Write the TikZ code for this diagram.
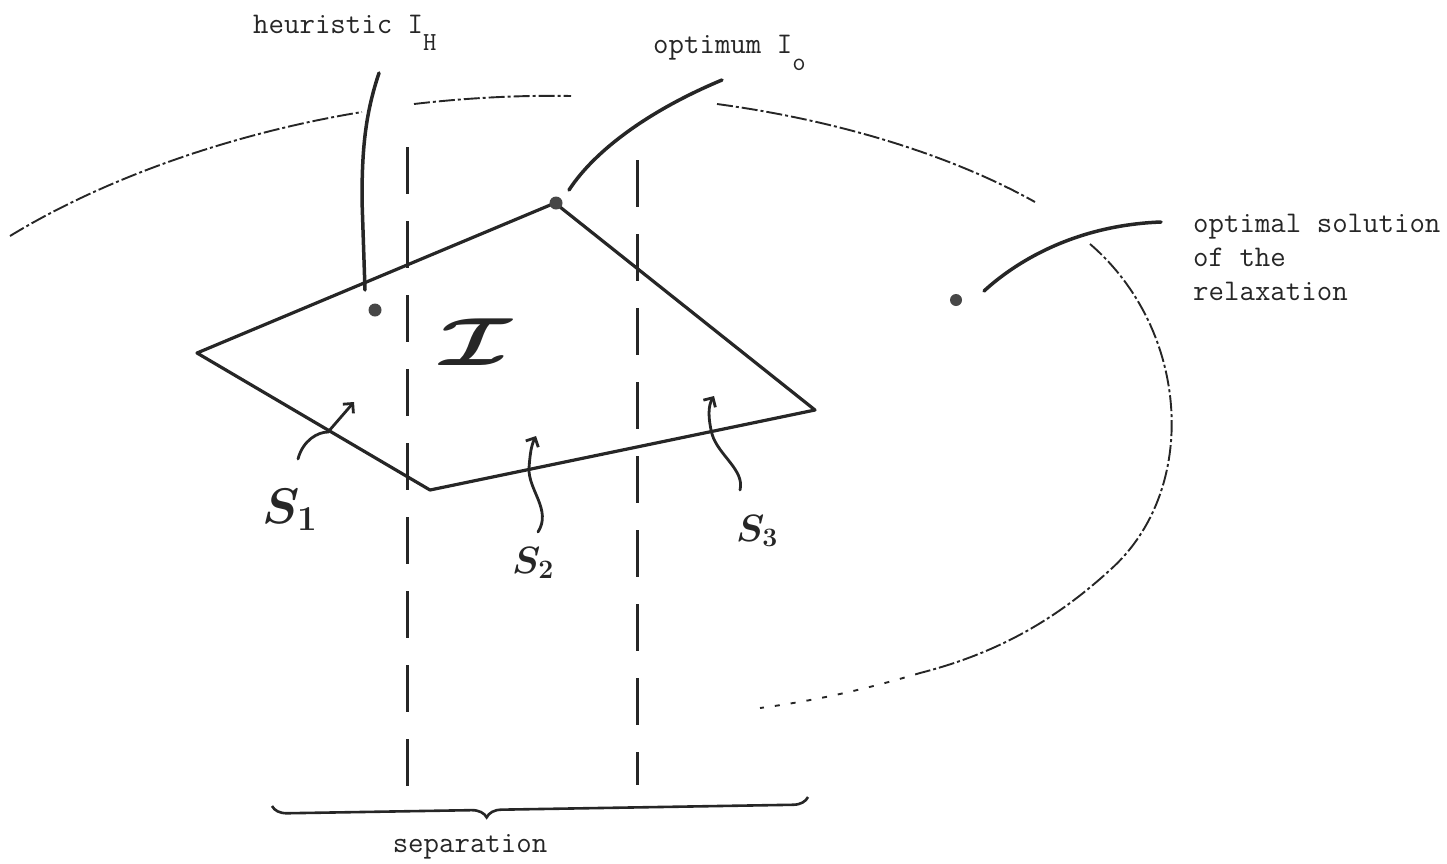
\documentclass[tikz,border=0pt]{standalone}
\usepackage{fix-cm}
\usepackage{fontspec}
\setmainfont{Liberation Serif}
\usetikzlibrary{arrows.meta,decorations.pathreplacing}
\definecolor{Ink}{RGB}{38,38,38}

\tikzset{
  tw/.style={font=\ttfamily\fontsize{30}{34}\selectfont\addfontfeatures{FakeBold=1.2}, inner sep=0pt, text=Ink},
  polyedge/.style={draw=Ink, line width=3.2pt, line join=round},
  sepline/.style={draw=Ink, line width=3pt, dash pattern=on 47pt off 27pt},
  leader/.style={draw=Ink, line width=3.5pt, line cap=round},
  relaxarc/.style={draw=Ink, line width=1.9pt, dash pattern=on 16pt off 3pt on 3pt off 3pt},
  pointdot/.style={circle, fill=Ink!85, inner sep=0pt, minimum size=13pt},
  hand/.style={inner sep=0pt, text=Ink},
  wiggle/.style={draw=Ink, line width=2.8pt, line cap=round, -{Straight Barb[length=7pt,width=14pt]}},
}

\begin{document}
\begin{tikzpicture}[x=1pt,y=-1pt]
  \useasboundingbox (0,0) rectangle (1447,863);

  % relaxation region
  \draw[relaxarc] (10,236) .. controls (110,175) and (240,132) .. (362,112);
  \draw[relaxarc] (414,104) .. controls (465,98) and (520,95) .. (571,96);
  \draw[relaxarc] (717,104) .. controls (850,122) and (960,160) .. (1035,202);
  \draw[relaxarc] (1090,244) .. controls (1190,330) and (1200,490) .. (1110,570)
    .. controls (1050,625) and (990,655) .. (920,673);
  \draw[relaxarc, dash pattern=on 5pt off 11pt] (920,673) .. controls (870,688) and (820,700) .. (760,708);

  % separation lines
  \foreach \x/\ya/\yb in {407/147/790, 637/160/785}
    \draw[sepline] (\x,\ya) -- (\x,\yb);

  % polytope
  \coordinate (pl) at (197,353);
  \coordinate (pt) at (555,203);
  \coordinate (pr) at (815,410);
  \coordinate (pb) at (430,490);
  \draw[polyedge] (pl) -- (pt) -- (pr) -- (pb) -- cycle;

  \node[hand, font=\fontsize{68}{68}\selectfont\boldmath, xscale=1.45] (setI) at (476,342) {$\mathcal{I}$};

  % points
  \node[pointdot] (IH) at (375,310) {};
  \node[pointdot] (Io) at (556,203) {};
  \node[pointdot, minimum size=12pt] (relax) at (956,300) {};

  % labels
  \node[tw, anchor=base west] (heur) at (253,33)
    {heuristic I\raisebox{-17pt}{\fontsize{26}{26}\selectfont H}};
  \node[tw, anchor=base west] (opt) at (653,53)
    {optimum I\raisebox{-17pt}{\fontsize{26}{26}\selectfont o}};
  \node[tw, anchor=base west, align=left] (relaxtext) at (1193,300)
    {optimal solution\\of the\\relaxation};

  \coordinate (heurA) at (379,73);
  \coordinate (heurB) at (365,290);
  \draw[leader] (heurA) .. controls (365,115) and (362,150) .. (362,200) -- (heurB);
  \coordinate (optA) at (722,80);
  \coordinate (optB) at (569,190);
  \draw[leader] (optA) .. controls (650,110) and (595,150) .. (optB);
  \coordinate (relA) at (1161,222);
  \coordinate (relB) at (984,291);
  \draw[leader] (relA) .. controls (1080,225) and (1020,258) .. (relB);

  % cuts
  \node[hand, font=\fontsize{50}{50}\selectfont\boldmath] (s1) at (290,510) {$S_1$};
  \node[hand, font=\fontsize{38}{38}\selectfont\boldmath] (s2) at (533,563) {$S_2$};
  \node[hand, font=\fontsize{38}{38}\selectfont\boldmath] (s3) at (757,531) {$S_3$};

  \coordinate (s1a) at (298,459);
  \coordinate (s1b) at (354,402);
  \draw[wiggle] (s1a) .. controls (303,440) and (318,432) .. (328,432) -- (s1b);
  \coordinate (s2a) at (538,532);
  \coordinate (s2b) at (536,436);
  \draw[wiggle] (s2a) .. controls (552,510) and (528,490) .. (529,468)
    .. controls (530,455) and (531,446) .. (s2b);
  \coordinate (s3a) at (740,490);
  \coordinate (s3b) at (714,396);
  \draw[wiggle] (s3a) .. controls (745,470) and (718,455) .. (712,434)
    .. controls (708,418) and (708,406) .. (s3b);

  % brace
  \coordinate (bl) at (272,806);
  \coordinate (br) at (808,797);
  \draw[decorate, decoration={brace, mirror, amplitude=15pt, aspect=0.4}, draw=Ink, line width=2.6pt] (bl) -- (br);
  \node[tw, anchor=base] (septext) at (470,852) {separation};
\end{tikzpicture}
\end{document}
